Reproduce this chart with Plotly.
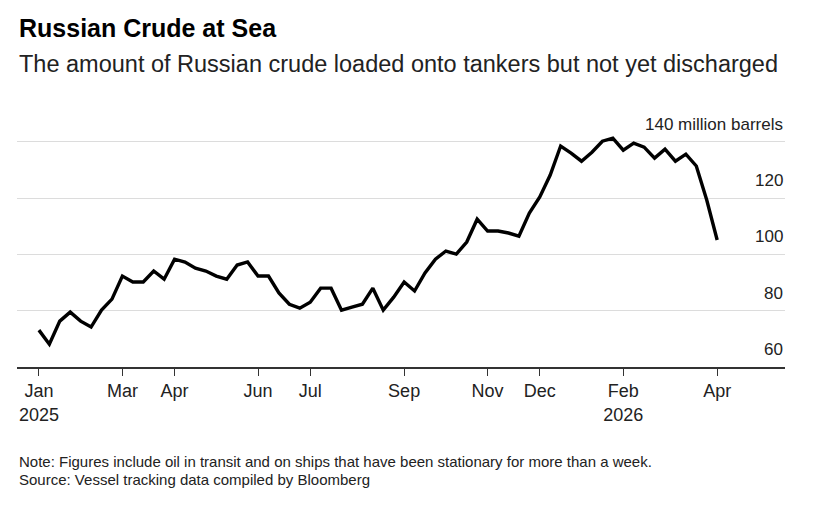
import plotly.graph_objects as go

# weekly readings, million barrels, Jan 2025 -> Apr 2026
crude_at_sea = [
    73.1, 68.1, 76.3, 79.5, 76.3, 74.2, 80.2, 84.1, 92.3, 90.2,
    90.2, 94.1, 91.2, 98.3, 97.3, 95.1, 94.1, 92.3, 91.2, 96.2,
    97.3, 92.3, 92.3, 86.3, 82.3, 80.9, 83.0, 88.0, 88.0, 80.2,
    81.3, 82.3, 88.0, 80.2, 84.8, 90.2, 87.0, 93.4, 98.3, 101.2,
    100.1, 104.4, 112.5, 108.3, 108.3, 107.6, 106.5, 114.7, 120.4, 128.2,
    138.5, 136.0, 133.1, 136.3, 140.2, 141.3, 137.0, 139.5, 138.1, 134.2,
    137.4, 133.1, 135.6, 131.4, 119.3, 105.1,
]
week_idx = list(range(len(crude_at_sea)))

month_ticks = [0, 8, 13, 21, 26, 35, 43, 48, 56, 65]
month_labels = ["Jan<br>2025", "Mar", "Apr", "Jun", "Jul", "Sep", "Nov", "Dec",
                "Feb<br>2026", "Apr"]

y_ticks = [60, 80, 100, 120, 140]
y_labels = ["60", "80", "100", "120", "140 million barrels"]

# page has an 8px body margin, so the figure is drawn 8px smaller
W, H = 808, 497
plot_top, plot_bottom = 99.9, 358.9
plot_h = plot_bottom - plot_top


def py(px):
    return (plot_bottom - px) / plot_h


FONT = "Liberation Sans, Arial, sans-serif"

fig = go.Figure()
fig.add_trace(go.Scatter(
    x=week_idx, y=crude_at_sea, mode="lines",
    line=dict(color="#000000", width=3.4),
    hoverinfo="skip",
))

# y labels sit above their gridlines, right-aligned
y_notes = [
    dict(text=lab, x=1, y=val, xref="paper", yref="y",
         xanchor="right", yanchor="bottom", yshift=6, showarrow=False,
         font=dict(size=17, color="#222222", family=FONT))
    for val, lab in zip(y_ticks, y_labels)
]

fig.update_layout(
    width=W, height=H,
    margin=dict(l=9, r=31, t=plot_top, b=H - plot_bottom),
    paper_bgcolor="white", plot_bgcolor="white",
    showlegend=False,
    font=dict(family=FONT, color="#222222"),
    xaxis=dict(
        range=[-2.1, 71.5],
        tickmode="array", tickvals=month_ticks, ticktext=month_labels,
        ticks="outside", ticklen=7, tickwidth=1.3, tickcolor="#333333",
        showline=True, linecolor="#333333", linewidth=1.5,
        showgrid=False, zeroline=False,
        tickfont=dict(size=18, color="#222222"),
    ),
    yaxis=dict(
        range=[60, 152], side="right",
        tickmode="array", tickvals=y_ticks, showticklabels=False, ticks="",
        showgrid=True, gridcolor="#dcdcdc", gridwidth=1.3,
        zeroline=False, showline=False,
    ),
    annotations=y_notes + [
        dict(text="<b>Russian Crude at Sea</b>", x=0, y=py(19.5), xref="paper", yref="paper",
             xanchor="left", yanchor="middle", showarrow=False,
             font=dict(size=25, color="#000000", family=FONT)),
        dict(text="The amount of Russian crude loaded onto tankers but not yet discharged",
             x=0, y=py(55.5), xref="paper", yref="paper",
             xanchor="left", yanchor="middle", showarrow=False,
             font=dict(size=23.5, color="#222222", family=FONT)),
        dict(text="Note: Figures include oil in transit and on ships that have been stationary for more than a week.",
             x=0, y=py(453.5), xref="paper", yref="paper",
             xanchor="left", yanchor="middle", showarrow=False,
             font=dict(size=15, color="#222222", family=FONT)),
        dict(text="Source: Vessel tracking data compiled by Bloomberg",
             x=0, y=py(471), xref="paper", yref="paper",
             xanchor="left", yanchor="middle", showarrow=False,
             font=dict(size=15, color="#222222", family=FONT)),
    ],
)

fig.write_html("out.html")
